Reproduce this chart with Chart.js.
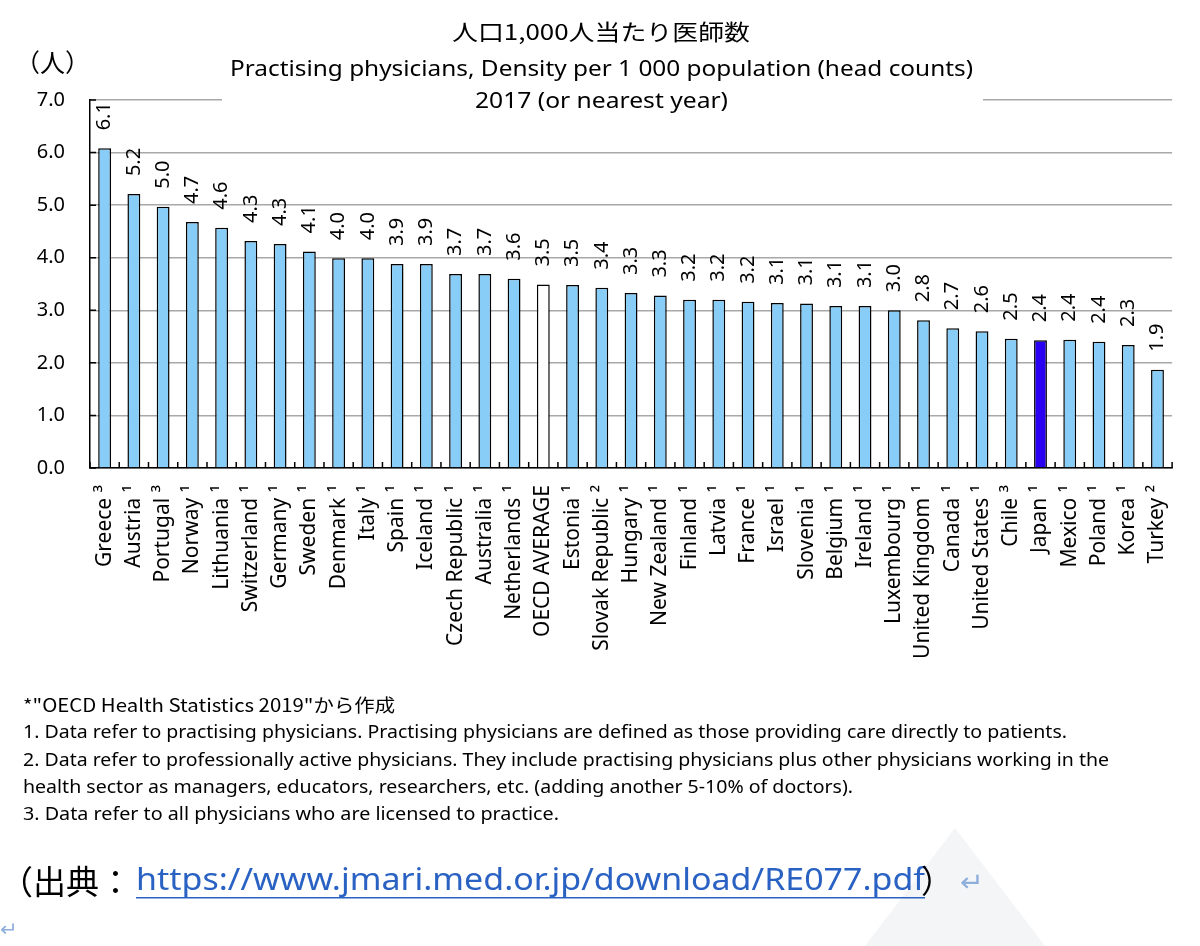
<!DOCTYPE html>
<html>
<head>
<meta charset="utf-8">
<script src="https://cdn.jsdelivr.net/npm/chart.js@4.4.1/dist/chart.umd.min.js"></script>
<style>
html,body{margin:0;padding:0;background:#fff;}
#wrap{width:1200px;height:946px;position:relative;overflow:hidden;}
canvas{display:block;}
</style>
</head>
<body>
<div id="wrap"><canvas id="c" width="1200" height="946"></canvas></div>
<script>
// ---- data ----
const categories = ['Greece','Austria','Portugal','Norway','Lithuania','Switzerland','Germany','Sweden','Denmark','Italy','Spain','Iceland','Czech Republic','Australia','Netherlands','OECD AVERAGE','Estonia','Slovak Republic','Hungary','New Zealand','Finland','Latvia','France','Israel','Slovenia','Belgium','Ireland','Luxembourg','United Kingdom','Canada','United States','Chile','Japan','Mexico','Poland','Korea','Turkey'];
const noteMarks = ['3','1','3','1','1','1','1','1','1','1','1','1','1','1','1','','1','2','1','1','1','1','1','1','1','1','1','1','1','1','1','3','1','1','1','1','2'];
const values = [6.08,5.21,4.97,4.68,4.57,4.32,4.26,4.12,3.99,3.99,3.88,3.88,3.69,3.69,3.60,3.49,3.48,3.43,3.33,3.28,3.20,3.20,3.16,3.14,3.13,3.08,3.08,3.00,2.81,2.66,2.60,2.46,2.43,2.44,2.40,2.34,1.87];
const yTicks = [0,1,2,3,4,5,6,7];
const titleLines = ['人口1,000人当たり医師数','Practising physicians, Density per 1 000 population (head counts)','2017 (or nearest year)'];
const unitLabel = '（人）';
const footnotes = [
  '*"OECD Health Statistics 2019"から作成',
  '1. Data refer to practising physicians. Practising physicians are defined as those providing care directly to patients.',
  '2. Data refer to professionally active physicians. They include practising physicians plus other physicians working in the',
  'health sector as managers, educators, researchers, etc. (adding another 5-10% of doctors).',
  '3. Data refer to all physicians who are licensed to practice.'
];
const sourcePrefix = '（出典：';
const sourceUrl = 'https://www.jmari.med.or.jp/download/RE077.pdf';
const sourceSuffix = '）';

// ---- styling ----
const SUP = {'1':'\u00B9','2':'\u00B2','3':'\u00B3'};
const tickLabels = categories.map((c,i)=> noteMarks[i] ? c + ' ' + SUP[noteMarks[i]] : c);
const barColors = categories.map(c => c === 'OECD AVERAGE' ? '#FFFFFF' : (c === 'Japan' ? '#2A00F2' : '#87CDF8'));
const LATIN = '"Noto Sans", "Open Sans", sans-serif';
const CJK = '"Noto Sans CJK JP", "Noto Sans", sans-serif';

function drawFit(ctx, text, left, y, size, family, targetW, color) {
  ctx.save();
  ctx.font = size + 'px ' + family;
  ctx.fillStyle = color || '#000';
  ctx.textAlign = 'left';
  ctx.textBaseline = 'middle';
  const w = ctx.measureText(text).width;
  ctx.translate(left, y);
  if (targetW) ctx.scale(targetW / w, 1);
  ctx.fillText(text, 0, 0);
  ctx.restore();
}

const decorPlugin = {
  id: 'decor',
  beforeDraw(chart) {
    const ctx = chart.ctx;
    ctx.save();
    ctx.fillStyle = '#fff';
    ctx.fillRect(0, 0, chart.width, chart.height);
    // faint watermark shape
    ctx.fillStyle = '#F4F5F7';
    ctx.beginPath();
    ctx.moveTo(955, 828); ctx.lineTo(1045, 946); ctx.lineTo(865, 946); ctx.closePath();
    ctx.fill();
    ctx.restore();
  },
  beforeDatasetsDraw(chart) {
    const ctx = chart.ctx;
    // white title box hiding part of the top gridline
    ctx.save();
    ctx.fillStyle = '#fff';
    ctx.fillRect(222, 94, 761, 12);
    ctx.restore();
  },
  afterDatasetsDraw(chart) {
    const ctx = chart.ctx;
    const xs = chart.scales.x, ys = chart.scales.y;
    const area = chart.chartArea;
    ctx.save();
    // inward tick marks
    ctx.strokeStyle = '#000';
    ctx.lineWidth = 1.5;
    const half = (xs.getPixelForValue(1) - xs.getPixelForValue(0)) / 2;
    ctx.beginPath();
    for (let i = 0; i <= categories.length; i++) {
      const px = xs.getPixelForValue(i) - half;
      ctx.moveTo(px, area.bottom);
      ctx.lineTo(px, area.bottom - 6);
    }
    yTicks.forEach(v => {
      const py = ys.getPixelForValue(v);
      ctx.moveTo(area.left, py);
      ctx.lineTo(area.left + 6, py);
    });
    ctx.stroke();
    // value labels (rotated)
    ctx.fillStyle = '#000';
    ctx.font = '20px ' + LATIN;
    ctx.textAlign = 'left';
    ctx.textBaseline = 'middle';
    const meta = chart.getDatasetMeta(0);
    meta.data.forEach((el, i) => {
      ctx.save();
      ctx.translate(el.x, el.y - 18);
      ctx.rotate(-Math.PI / 2);
      ctx.fillText(values[i].toFixed(1), 0, 0);
      ctx.restore();
    });
    ctx.restore();
  },
  afterDraw(chart) {
    const ctx = chart.ctx;
    ctx.save();
    // titles
    drawFit(ctx, titleLines[0], 452, 32, 22, CJK, 298, '#000');
    drawFit(ctx, titleLines[1], 230, 70, 21, LATIN, 743, '#000');
    drawFit(ctx, titleLines[2], 475, 102, 21, LATIN, 253, '#000');
    // unit
    drawFit(ctx, unitLabel, 15, 62, 25, CJK, 0, '#000');
    // footnotes
    const fy = [705, 733, 761, 788, 815];
    const fw = [372, 1044, 1086, 830, 536];
    footnotes.forEach((t, i) => {
      drawFit(ctx, t, 23, fy[i], 18, (i === 0 ? CJK : LATIN), fw[i], '#000');
    });
    // source line
    drawFit(ctx, sourcePrefix, 0, 881, 33, CJK, 0, '#000');
    drawFit(ctx, sourceUrl, 136, 881, 30, LATIN, 789, '#2A62C4');
    ctx.fillStyle = '#2A62C4';
    ctx.fillRect(136, 897, 789, 1.5);
    drawFit(ctx, sourceSuffix, 921, 881, 32, CJK, 0, '#000');
    drawFit(ctx, '\u21B5', 960, 884, 26, LATIN, 24, '#8EAEDC');
    drawFit(ctx, '\u21B5', 0, 930, 20, LATIN, 18, '#8EAEDC');
    ctx.restore();
  }
};

new Chart(document.getElementById('c'), {
  type: 'bar',
  data: {
    labels: tickLabels,
    datasets: [{
      data: values,
      backgroundColor: barColors,
      borderColor: '#000',
      borderWidth: 1.5,
      barPercentage: 0.44,
      categoryPercentage: 1.0
    }]
  },
  options: {
    responsive: false,
    animation: false,
    devicePixelRatio: 1,
    layout: { padding: { top: 100, left: 0, right: 24, bottom: 278 } },
    plugins: { legend: { display: false }, tooltip: { enabled: false }, title: { display: false } },
    scales: {
      x: {
        grid: { display: false, drawTicks: false },
        border: { display: true, color: '#000', width: 1.5 },
        ticks: {
          autoSkip: false, maxRotation: 90, minRotation: 90, padding: 17,
          color: '#000', font: { family: LATIN, size: 21 }
        },
        afterFit(s) { s.height = 200; }
      },
      y: {
        min: 0, max: 7,
        afterBuildTicks(s) { s.ticks = yTicks.map(v => ({ value: v })); },
        grid: { color: '#A8A8A8', lineWidth: 1.5, drawTicks: false },
        border: { display: true, color: '#000', width: 1.5 },
        ticks: {
          padding: 25, color: '#000', font: { family: LATIN, size: 20 },
          callback: v => Number(v).toFixed(1)
        },
        afterFit(s) { s.width = 90; }
      }
    }
  },
  plugins: [decorPlugin]
});
</script>
</body>
</html>
